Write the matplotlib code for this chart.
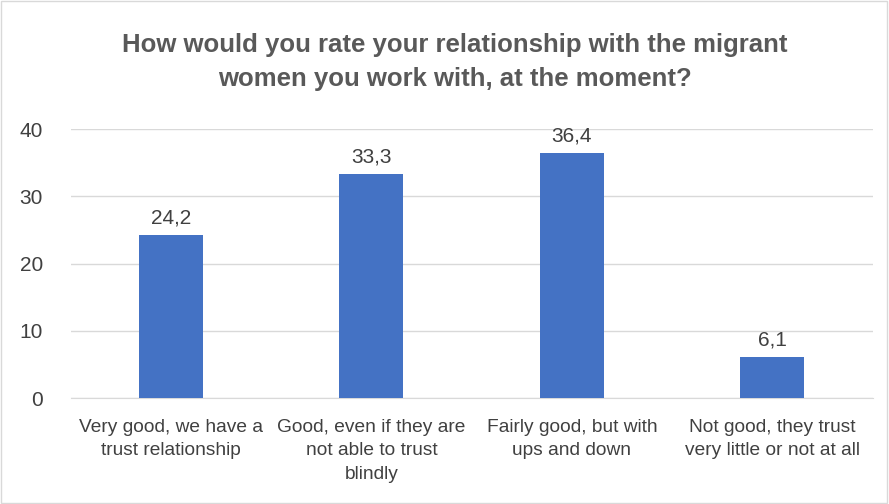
import matplotlib.pyplot as plt
import numpy as np

plt.rcParams['font.family'] = ['Liberation Sans', 'DejaVu Sans']

categories = ['Very good, we have a\ntrust relationship',
              'Good, even if they are\nnot able to trust\nblindly',
              'Fairly good, but with\nups and down',
              'Not good, they trust\nvery little or not at all']
values = [24.2, 33.3, 36.4, 6.1]
labels = ['24,2', '33,3', '36,4', '6,1']

fig = plt.figure(figsize=(8.89, 5.04), dpi=100)
ax = fig.add_axes([0.0795, 0.21, 0.902, 0.534])

x = np.arange(len(categories))
ax.bar(x, values, width=0.32, color='#4472c4', zorder=3)
for xi, v, lab in zip(x, values, labels):
    ax.text(xi, v + 1.1, lab, ha='center', va='bottom', fontsize=15, color='#404040')

ax.set_xlim(-0.5, 3.5)
ax.set_ylim(0, 40)
ax.set_yticks([0, 10, 20, 30, 40])
ax.set_xticks(x)
ax.set_xticklabels(categories, fontsize=13.8, color='#404040', linespacing=1.5)
ax.tick_params(axis='y', labelsize=15, labelcolor='#404040', length=0, pad=20)
ax.tick_params(axis='x', length=0, pad=15)
ax.grid(axis='y', color='#d9d9d9', lw=1, zorder=0)
for s in ['top', 'right', 'left']:
    ax.spines[s].set_visible(False)
ax.spines['bottom'].set_color('#d9d9d9')

fig.text(0.512, 0.877, 'How would you rate your relationship with the migrant\nwomen you work with, at the moment?',
         ha='center', va='center', fontsize=18.5, fontweight='bold', color='#595959', linespacing=1.55)

fig.patches.append(plt.Rectangle((0.001, 0.001), 0.997, 0.997, transform=fig.transFigure,
                                 fill=False, edgecolor='#d9d9d9', lw=1))

fig.savefig('out.png', dpi=100)
